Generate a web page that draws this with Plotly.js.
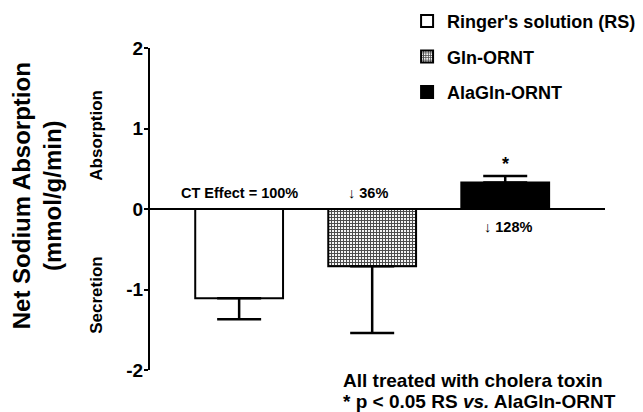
<!DOCTYPE html>
<html>
<head>
<meta charset="utf-8">
<script src="https://cdn.plot.ly/plotly-3.0.1.min.js"></script>
<style>html,body{margin:0;padding:0;background:#fff;}#chart{width:643px;height:412px;}</style>
</head>
<body>
<div id="chart"></div>
<script>
// Data
var groups = ["Ringer's solution (RS)", "Gln-ORNT", "AlaGln-ORNT"];
var categories = ["RS", "Gln-ORNT", "AlaGln-ORNT"];
var meanValues = [-1.11, -0.71, 0.33];
var errPlus = [0, 0, 0.08];
var errMinus = [0.26, 0.83, 0];
var effectLabels = ["CT Effect = 100%", "\u2193 36%", "\u2193 128%"];
var effectY = [0.2, 0.2, -0.22];
var effectX = [0, 0.97, 2.02];
var yTicks = [-2, -1, 0, 1, 2];
var noteLines = ["All treated with cholera toxin", "* p &lt; 0.05 RS <i>vs.</i> AlaGln-ORNT"];

var FONT = "Arial, 'Liberation Sans', Helvetica, sans-serif";
var fills = ["#ffffff", "#ffffff", "#000000"];
var patterns = [
  {shape: ""},
  {shape: "+", size: 3, solidity: 0.55, fgcolor: "#4a4a4a", bgcolor: "#f4f4f4", fillmode: "replace"},
  {shape: ""}
];

var traces = groups.map(function(name, i) {
  return {
    type: "bar",
    name: name,
    x: [categories[i]],
    y: [meanValues[i]],
    width: 0.66,
    legendgroup: "g" + i,
    marker: {color: fills[i], pattern: patterns[i], line: {color: "#000", width: 2}},
    error_y: {type: "data", symmetric: false, array: [errPlus[i]], arrayminus: [errMinus[i]],
              color: "#000", thickness: 2.5, width: 22},
    hoverinfo: "skip"
  };
});

var annotations = [];
effectLabels.forEach(function(t, i) {
  annotations.push({x: effectX[i], y: effectY[i], xref: "x", yref: "y", text: "<b>" + t + "</b>",
    showarrow: false, xanchor: "center", yanchor: "middle", font: {family: FONT, size: 14.5, color: "#000"}});
});
annotations.push({x: 2, y: 0.56, xref: "x", yref: "y", text: "<b>*</b>", showarrow: false,
  xanchor: "center", yanchor: "middle", font: {family: FONT, size: 18, color: "#000"}});
// Y axis title (rotated)
annotations.push({x: -0.248, y: 0.54, xref: "paper", yref: "paper", xanchor: "center", yanchor: "middle",
  text: "<b>Net Sodium Absorption<br>(mmol/g/min)</b>", textangle: -90, showarrow: false,
  font: {family: FONT, size: 24, color: "#000"}});
annotations.push({x: -0.117, y: 0.73, xref: "paper", yref: "paper", xanchor: "center", yanchor: "middle",
  text: "<b>Absorption</b>", textangle: -90, showarrow: false, font: {family: FONT, size: 17, color: "#000"}});
annotations.push({x: -0.117, y: 0.233, xref: "paper", yref: "paper", xanchor: "center", yanchor: "middle",
  text: "<b>Secretion</b>", textangle: -90, showarrow: false, font: {family: FONT, size: 17, color: "#000"}});
var noteY = [-0.034, -0.099];
noteLines.forEach(function(t, i) {
  annotations.push({x: 0.42, y: noteY[i], xref: "paper", yref: "paper", xanchor: "left", yanchor: "middle",
    align: "left", showarrow: false, text: "<b>" + t + "</b>",
    font: {family: FONT, size: 19, color: "#000"}});
});

var layout = {
  width: 643, height: 412,
  margin: {l: 150, r: 38, t: 48, b: 42, autoexpand: false},
  paper_bgcolor: "#fff", plot_bgcolor: "#fff",
  barmode: "overlay",
  showlegend: true,
  legend: {x: 0.565, y: 1.14, xanchor: "left", yanchor: "top", bgcolor: "rgba(0,0,0,0)",
    font: {family: FONT, size: 18, color: "#000", weight: "bold"}, tracegroupgap: 9, itemclick: false},
  xaxis: {type: "category", range: [-0.67, 2.75], showticklabels: false, ticks: "", showgrid: false,
    showline: false, zeroline: false, fixedrange: true},
  yaxis: {range: [-2, 2], tickvals: yTicks, ticktext: yTicks.map(String), showgrid: false,
    showline: true, linecolor: "#000", linewidth: 2, ticks: "outside", ticklen: 4, tickwidth: 2,
    tickcolor: "#000", zeroline: true, zerolinecolor: "#000", zerolinewidth: 2, ticklabelstandoff: -3,
    tickfont: {family: FONT, size: 19, color: "#000", weight: "bold"}, fixedrange: true},
  annotations: annotations
};

Plotly.newPlot("chart", traces, layout, {staticPlot: true, displayModeBar: false});
</script>
</body>
</html>
